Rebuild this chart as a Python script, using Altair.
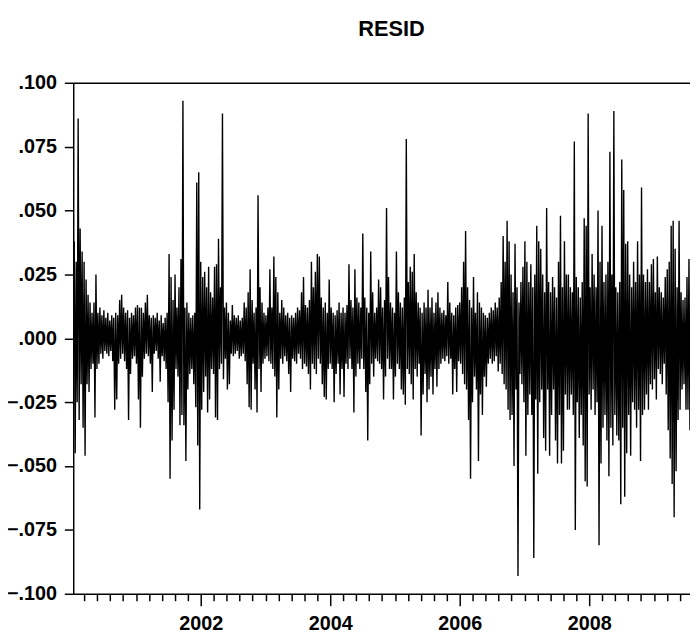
import altair as alt
import pandas as pd

# Residual envelope, in thousandths.
# One high and one low reading per ~2 px column (about 11 trading days).
HI = [
    38, 30, 86, 43, 34, 30, 23, 17, 14, 10,
    14, 25, 10, 12, 9, 11, 8, 10, 7, 9,
    8, 10, 9, 15, 17, 12, 10, 11, 8, 10,
    9, 12, 13, 12, 12, 10, 14, 17, 9, 8,
    9, 8, 10, 7, 9, 6, 8, 10, 33, 24,
    15, 25, 12, 20, 31, 93, 12, 14, 10, 8,
    9, 10, 61, 65, 30, 24, 26, 20, 28, 18,
    16, 28, 29, 39, 20, 88, 12, 14, 10, 7,
    13, 9, 8, 9, 7, 8, 14, 12, 18, 27,
    15, 10, 12, 56, 20, 14, 10, 9, 12, 27,
    12, 32, 24, 18, 10, 15, 12, 9, 10, 8,
    9, 8, 10, 12, 11, 18, 24, 13, 12, 15,
    30, 20, 26, 33, 32, 16, 12, 14, 10, 23,
    12, 10, 9, 11, 14, 10, 12, 10, 13, 29,
    15, 12, 27, 16, 14, 12, 41, 16, 12, 10,
    34, 18, 10, 12, 23, 20, 12, 15, 51, 24,
    14, 12, 10, 34, 18, 14, 12, 16, 78, 22,
    28, 26, 33, 18, 14, 12, 10, 14, 12, 19,
    12, 16, 10, 14, 18, 12, 10, 11, 9, 22,
    14, 10, 9, 12, 13, 14, 20, 30, 42, 20,
    15, 12, 24, 10, 18, 14, 12, 10, 9, 8,
    10, 12, 11, 14, 12, 16, 22, 40, 30, 46,
    38, 25, 18, 37, 20, 14, 22, 28, 38, 30,
    22, 29, 20, 25, 44, 38, 35, 25, 18, 51,
    22, 18, 24, 20, 16, 30, 48, 20, 38, 25,
    25, 20, 18, 77, 24, 20, 16, 22, 47, 44,
    88, 20, 33, 25, 20, 50, 30, 44, 22, 25,
    30, 73, 25, 89, 20, 18, 22, 70, 58, 37,
    38, 25, 20, 30, 22, 38, 25, 59, 25, 22,
    27, 22, 29, 31, 18, 32, 20, 18, 16, 24,
    27, 30, 44, 46, 35, 20, 46, 18, 15, 16,
    24, 31,
]
LO = [
    -45, -25, -32, -18, -35, -46, -18, -21, -12, -10,
    -31, -12, -10, -6, -8, -5, -6, -7, -5, -9,
    -28, -24, -10, -8, -6, -9, -12, -32, -14, -8,
    -7, -10, -24, -35, -15, -8, -6, -7, -10, -21,
    -6, -5, -8, -17, -7, -9, -12, -25, -55, -40,
    -28, -12, -15, -34, -30, -34, -48, -20, -14, -12,
    -18, -27, -42, -67, -28, -21, -15, -29, -24, -12,
    -14, -31, -32, -12, -10, -16, -8, -20, -18, -6,
    -7, -6, -5, -8, -7, -6, -9, -18, -27, -28,
    -10, -20, -29, -12, -21, -10, -8, -7, -9, -10,
    -12, -15, -31, -20, -8, -10, -7, -9, -14, -21,
    -8, -9, -10, -6, -8, -12, -10, -11, -14, -20,
    -10, -12, -14, -8, -10, -18, -23, -24, -12, -10,
    -12, -25, -14, -10, -22, -12, -23, -10, -12, -8,
    -12, -29, -15, -10, -12, -8, -12, -21, -40, -18,
    -10, -15, -8, -9, -10, -12, -24, -15, -8, -12,
    -12, -24, -15, -10, -12, -20, -22, -26, -12, -14,
    -18, -24, -12, -15, -10, -38, -22, -14, -25, -20,
    -15, -22, -12, -19, -12, -10, -8, -9, -7, -10,
    -8, -22, -12, -21, -9, -10, -14, -18, -20, -32,
    -55, -25, -15, -20, -48, -22, -30, -15, -19, -10,
    -8, -10, -9, -7, -13, -10, -14, -18, -20, -28,
    -32, -30, -50, -20, -93, -14, -18, -25, -46, -30,
    -22, -30, -86, -24, -53, -25, -20, -39, -44, -20,
    -46, -30, -20, -40, -49, -30, -49, -44, -22, -28,
    -28, -22, -30, -75, -25, -39, -30, -42, -56, -58,
    -22, -28, -20, -30, -25, -81, -49, -35, -30, -40,
    -54, -35, -42, -30, -38, -40, -65, -35, -62, -45,
    -30, -46, -25, -28, -35, -28, -48, -30, -28, -22,
    -28, -18, -20, -16, -24, -12, -14, -18, -10, -22,
    -36, -47, -57, -70, -52, -32, -28, -20, -18, -28,
    -28, -36,
]

START = 2000.045      # first plotted reading (decimal year)
STEP = 0.015267       # years between consecutive readings
X_MIN, X_MAX = 2000.03, 2009.557
Y_TICKS = [-0.1, -0.075, -0.05, -0.025, 0.0, 0.025, 0.05, 0.075, 0.1]
X_TICKS = [round(2000.2 + 0.2 * i, 1) for i in range(47)]

vals = []
for h, l in zip(HI, LO):
    vals += [h / 1000.0, l / 1000.0]
df = pd.DataFrame({"t": [START + i * STEP for i in range(len(vals))], "resid": vals})

FONT = "Liberation Sans"
xscale = alt.Scale(domain=[X_MIN, X_MAX], nice=False, zero=False)
yscale = alt.Scale(domain=[-0.1, 0.1], nice=False)
major = "round(datum.value*10) % 20 == 0"

line = alt.Chart(df).mark_line(color="black", strokeWidth=1.4, clip=True).encode(
    x=alt.X("t:Q", scale=xscale,
            axis=alt.Axis(orient="bottom", values=X_TICKS, title=None, grid=False,
                          labelExpr=major + " ? toString(round(datum.value)) : ''",
                          tickSize={"condition": {"test": major, "value": 12}, "value": 7},
                          labelPadding=8, labelFlush=False, labelOverlap=False)),
    y=alt.Y("resid:Q", scale=yscale,
            axis=alt.Axis(values=Y_TICKS, title=None, grid=False, tickSize=9, labelPadding=8,
                          labelExpr="replace(format(datum.value, '.3f'), '0.', '.')")),
)

top = alt.Chart(df).mark_line(opacity=0).encode(
    x=alt.X("t:Q", scale=xscale,
            axis=alt.Axis(orient="top", ticks=False, labels=False, title=None, grid=False)),
    y=alt.Y("resid:Q", scale=yscale, axis=None),
)

chart = alt.layer(line, top).resolve_axis(x="independent", y="independent").properties(
    width=624, height=517,
    autosize=alt.AutoSizeParams(type="none"),
    padding={"left": 66, "top": 72, "right": 0, "bottom": 36},
    title=alt.TitleParams("RESID", font=FONT, fontSize=22, fontWeight="bold",
                          color="black", anchor="middle", offset=32, dx=10),
    background="white",
).configure_view(stroke=None).configure_axis(
    labelFont=FONT, labelFontSize=20, labelFontWeight="bold", labelColor="black",
    domainColor="black", domainWidth=1.5, tickColor="black", tickWidth=1.5,
)

chart.save("out.html", embed_options={"renderer": "svg", "actions": False})
